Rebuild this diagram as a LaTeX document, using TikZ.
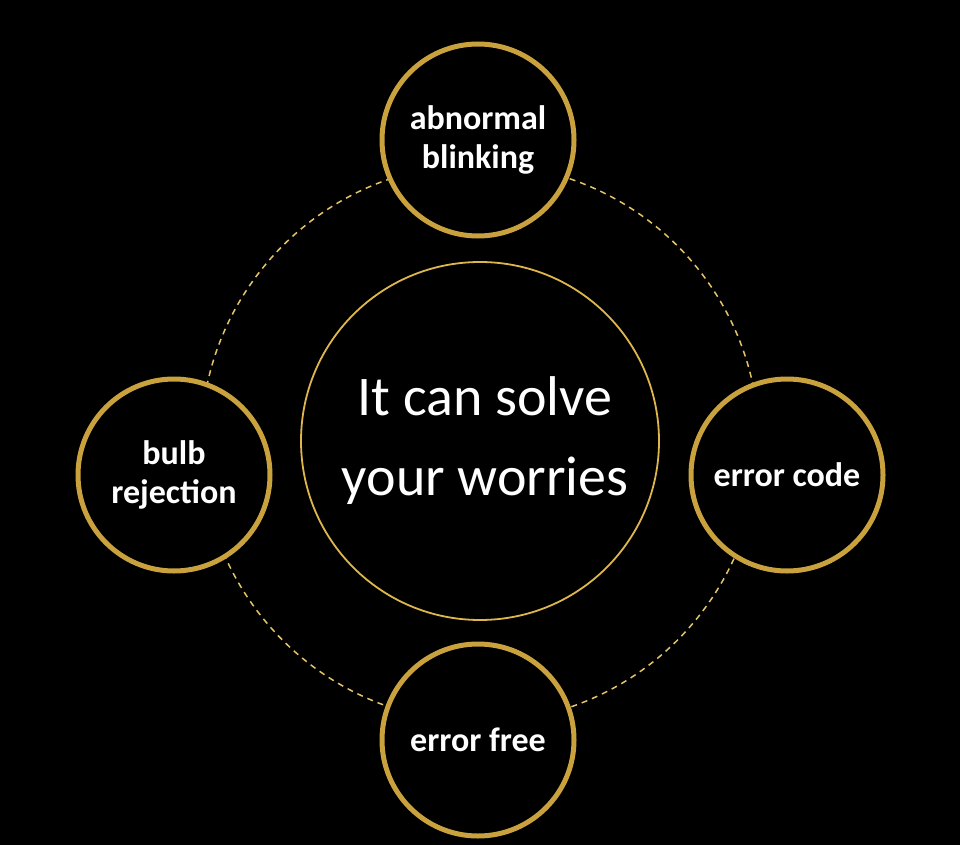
\documentclass[tikz,border=0pt]{standalone}
\usepackage{fontspec}
\setmainfont{Carlito}
\definecolor{gold}{HTML}{C9A23E}
\definecolor{goldlight}{HTML}{E3C466}
\definecolor{goldmid}{HTML}{DDB64C}
\begin{document}
\begin{tikzpicture}[x=1pt,y=-1pt,
  sat/.style={circle,draw=gold,line width=5pt,fill=black,minimum size=192pt,inner sep=0pt,
    text=white,font=\fontsize{34}{39}\selectfont\bfseries,align=center},
  hub/.style={circle,draw=goldmid,line width=1.8pt,minimum size=358pt,inner sep=0pt,
    text=white,font=\fontsize{56}{80}\selectfont,align=center},
  ring/.style={draw=goldlight,line width=1.5pt,dash pattern=on 6pt off 5pt}]
\fill[black] (0,0) rectangle (960,845);
\useasboundingbox (0,0) rectangle (960,845);
\coordinate (ringc) at (480,443);
\draw[ring] (ringc) circle[radius=279pt];
\node[hub] (hub) at (480,441) {};
\node[text=white,font=\fontsize{56}{80}\selectfont,align=center] (hubtext) at (485,441) {It can solve\\your worries};
\node[sat] (top) at (478,140) {abnormal\\blinking};
\node[sat] (right) at (787,475) {error code};
\node[sat] (bottom) at (478,740) {error free};
\node[sat] (left) at (174,475) {bulb\\rejection};
\end{tikzpicture}
\end{document}
